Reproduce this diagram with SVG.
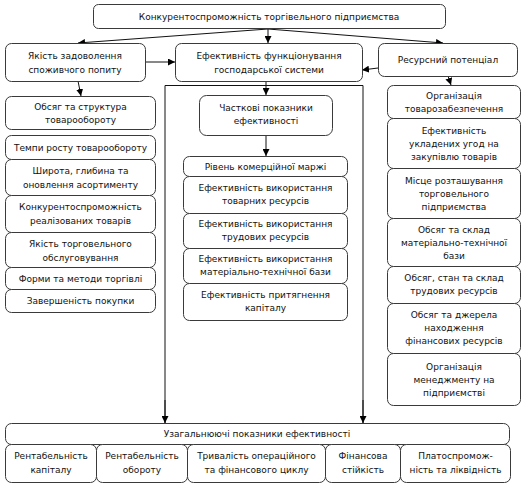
<svg xmlns="http://www.w3.org/2000/svg" width="526" height="487" viewBox="0 0 526 487">
<defs>
<style>
.b{fill:#fff;stroke:#3a3a3a;stroke-width:1}
.t{font-family:"DejaVu Sans",Verdana,sans-serif;font-size:9px;fill:#111;text-anchor:middle}
.c{fill:none;stroke:#111;stroke-width:1}
</style>
<marker id="a" viewBox="0 0 8 8" refX="8" refY="4" markerWidth="7" markerHeight="7" markerUnits="userSpaceOnUse" orient="auto">
<path d="M0,0 L8,4 L0,8 z" fill="#000"/>
</marker>
</defs>
<rect width="526" height="487" fill="#fff"/>
<g id="connectors">
<line class="c" x1="268" y1="29" x2="78" y2="43" marker-end="url(#a)"/>
<line class="c" x1="268" y1="29" x2="268" y2="43" marker-end="url(#a)"/>
<line class="c" x1="268" y1="29" x2="443" y2="43" marker-end="url(#a)"/>
<line class="c" x1="145" y1="62" x2="175" y2="62" marker-end="url(#a)"/>
<line class="c" x1="378" y1="68" x2="362" y2="70" marker-end="url(#a)"/>
<line class="c" x1="78" y1="81" x2="81" y2="96" marker-end="url(#a)"/>
<line class="c" x1="448" y1="76" x2="451" y2="85" marker-end="url(#a)"/>
<line class="c" x1="266" y1="81" x2="266" y2="95" marker-end="url(#a)"/>
<line class="c" x1="266" y1="135" x2="266" y2="156" marker-end="url(#a)"/>
<path class="c" d="M165,423 V85.5 H363 V423"/>
<line class="c" x1="165" y1="400" x2="165" y2="423" marker-end="url(#a)"/>
<line class="c" x1="363" y1="400" x2="363" y2="423" marker-end="url(#a)"/>
</g>
<g id="n-top"><rect class="b" x="93.5" y="4.5" width="352" height="24" rx="5"/><text class="t" x="269" y="20">Конкурентоспроможність торгівельного підприємства</text></g>
<g id="n-yakist"><rect class="b" x="5.5" y="43.5" width="140" height="38" rx="6"/><text class="t" x="75" y="59">Якість задоволення</text><text class="t" x="75" y="73">споживчого попиту</text></g>
<g id="n-efekt"><rect class="b" x="175.5" y="43.5" width="187" height="38" rx="6"/><text class="t" x="269" y="59">Ефективність функціонування</text><text class="t" x="269" y="73">господарської системи</text></g>
<g id="n-resurs"><rect class="b" x="378.5" y="43.5" width="139" height="33" rx="6"/><text class="t" x="448" y="63">Ресурсний потенціал</text></g>

<g id="n-l1"><rect class="b" x="5.5" y="96.5" width="150" height="33" rx="6"/><text class="t" x="80.5" y="110">Обсяг та структура</text><text class="t" x="80.5" y="123">товарообороту</text></g>
<g id="n-l2"><rect class="b" x="5.5" y="135.5" width="150" height="24" rx="6"/><text class="t" x="80.5" y="151">Темпи росту товарообороту</text></g>
<g id="n-l3"><rect class="b" x="5.5" y="159.5" width="150" height="36" rx="6"/><text class="t" x="80.5" y="174">Широта, глибина та</text><text class="t" x="80.5" y="188">оновлення асортименту</text></g>
<g id="n-l4"><rect class="b" x="5.5" y="195.5" width="150" height="37" rx="6"/><text class="t" x="80.5" y="210">Конкурентоспроможність</text><text class="t" x="80.5" y="224">реалізованих товарів</text></g>
<g id="n-l5"><rect class="b" x="5.5" y="232.5" width="150" height="35" rx="6"/><text class="t" x="80.5" y="247">Якість торговельного</text><text class="t" x="80.5" y="261">обслуговування</text></g>
<g id="n-l6"><rect class="b" x="5.5" y="267.5" width="150" height="22" rx="6"/><text class="t" x="80.5" y="282">Форми та методи торгівлі</text></g>
<g id="n-l7"><rect class="b" x="5.5" y="289.5" width="150" height="23" rx="6"/><text class="t" x="80.5" y="304">Завершеність покупки</text></g>

<g id="n-m0"><rect class="b" x="199.5" y="95.5" width="133" height="40" rx="7"/><text class="t" x="266" y="111">Часткові показники</text><text class="t" x="266" y="124">ефективності</text></g>
<g id="n-m1"><rect class="b" x="183.5" y="156.5" width="164" height="20" rx="6"/><text class="t" x="265.5" y="170">Рівень комерційної маржі</text></g>
<g id="n-m2"><rect class="b" x="183.5" y="176.5" width="164" height="37" rx="6"/><text class="t" x="265.5" y="191">Ефективність використання</text><text class="t" x="265.5" y="204">товарних ресурсів</text></g>
<g id="n-m3"><rect class="b" x="183.5" y="213.5" width="164" height="35" rx="6"/><text class="t" x="265.5" y="227">Ефективність використання</text><text class="t" x="265.5" y="240">трудових ресурсів</text></g>
<g id="n-m4"><rect class="b" x="183.5" y="248.5" width="164" height="35" rx="6"/><text class="t" x="265.5" y="262">Ефективність використання</text><text class="t" x="265.5" y="275">матеріально-технічної бази</text></g>
<g id="n-m5"><rect class="b" x="183.5" y="283.5" width="164" height="37" rx="6"/><text class="t" x="265.5" y="298">Ефективність притягнення</text><text class="t" x="265.5" y="311">капіталу</text></g>

<g id="n-r1"><rect class="b" x="387.5" y="85.5" width="133" height="33" rx="6"/><text class="t" x="454" y="99">Організація</text><text class="t" x="454" y="112">товарозабезпечення</text></g>
<g id="n-r2"><rect class="b" x="387.5" y="118.5" width="133" height="50" rx="6"/><text class="t" x="454" y="134">Ефективність</text><text class="t" x="454" y="147">укладених угод на</text><text class="t" x="454" y="160">закупівлю товарів</text></g>
<g id="n-r3"><rect class="b" x="387.5" y="168.5" width="133" height="50" rx="6"/><text class="t" x="454" y="184">Місце розташування</text><text class="t" x="454" y="197">торговельного</text><text class="t" x="454" y="210">підприємства</text></g>
<g id="n-r4"><rect class="b" x="387.5" y="218.5" width="133" height="48" rx="6"/><text class="t" x="454" y="233">Обсяг та склад</text><text class="t" x="454" y="246">матеріально-технічної</text><text class="t" x="454" y="259">бази</text></g>
<g id="n-r5"><rect class="b" x="387.5" y="266.5" width="133" height="37" rx="6"/><text class="t" x="454" y="281">Обсяг, стан та склад</text><text class="t" x="454" y="294">трудових ресурсів</text></g>
<g id="n-r6"><rect class="b" x="387.5" y="303.5" width="133" height="50" rx="6"/><text class="t" x="454" y="318">Обсяг та джерела</text><text class="t" x="454" y="331">находження</text><text class="t" x="454" y="344">фінансових ресурсів</text></g>
<g id="n-r7"><rect class="b" x="387.5" y="353.5" width="133" height="52" rx="6"/><text class="t" x="454" y="370">Організація</text><text class="t" x="454" y="383">менеджменту на</text><text class="t" x="454" y="396">підприємстві</text></g>

<g id="n-b0"><rect class="b" x="5.5" y="423.5" width="504" height="21" rx="6"/><text class="t" x="257" y="437">Узагальнюючі показники ефективності</text></g>
<g id="n-b1"><rect class="b" x="5.5" y="444.5" width="91" height="38" rx="6"/><text class="t" x="51" y="459">Рентабельність</text><text class="t" x="51" y="473">капіталу</text></g>
<g id="n-b2"><rect class="b" x="96.5" y="444.5" width="91" height="38" rx="6"/><text class="t" x="142" y="459">Рентабельність</text><text class="t" x="142" y="473">обороту</text></g>
<g id="n-b3"><rect class="b" x="187.5" y="444.5" width="138" height="38" rx="6"/><text class="t" x="256.5" y="459">Тривалість операційного</text><text class="t" x="256.5" y="473">та фінансового циклу</text></g>
<g id="n-b4"><rect class="b" x="325.5" y="444.5" width="75" height="38" rx="6"/><text class="t" x="363" y="459">Фінансова</text><text class="t" x="363" y="473">стійкість</text></g>
<g id="n-b5"><rect class="b" x="400.5" y="444.5" width="110" height="38" rx="6"/><text class="t" x="455.5" y="459">Платоспромож-</text><text class="t" x="455.5" y="473">ність та ліквідність</text></g>
</svg>
